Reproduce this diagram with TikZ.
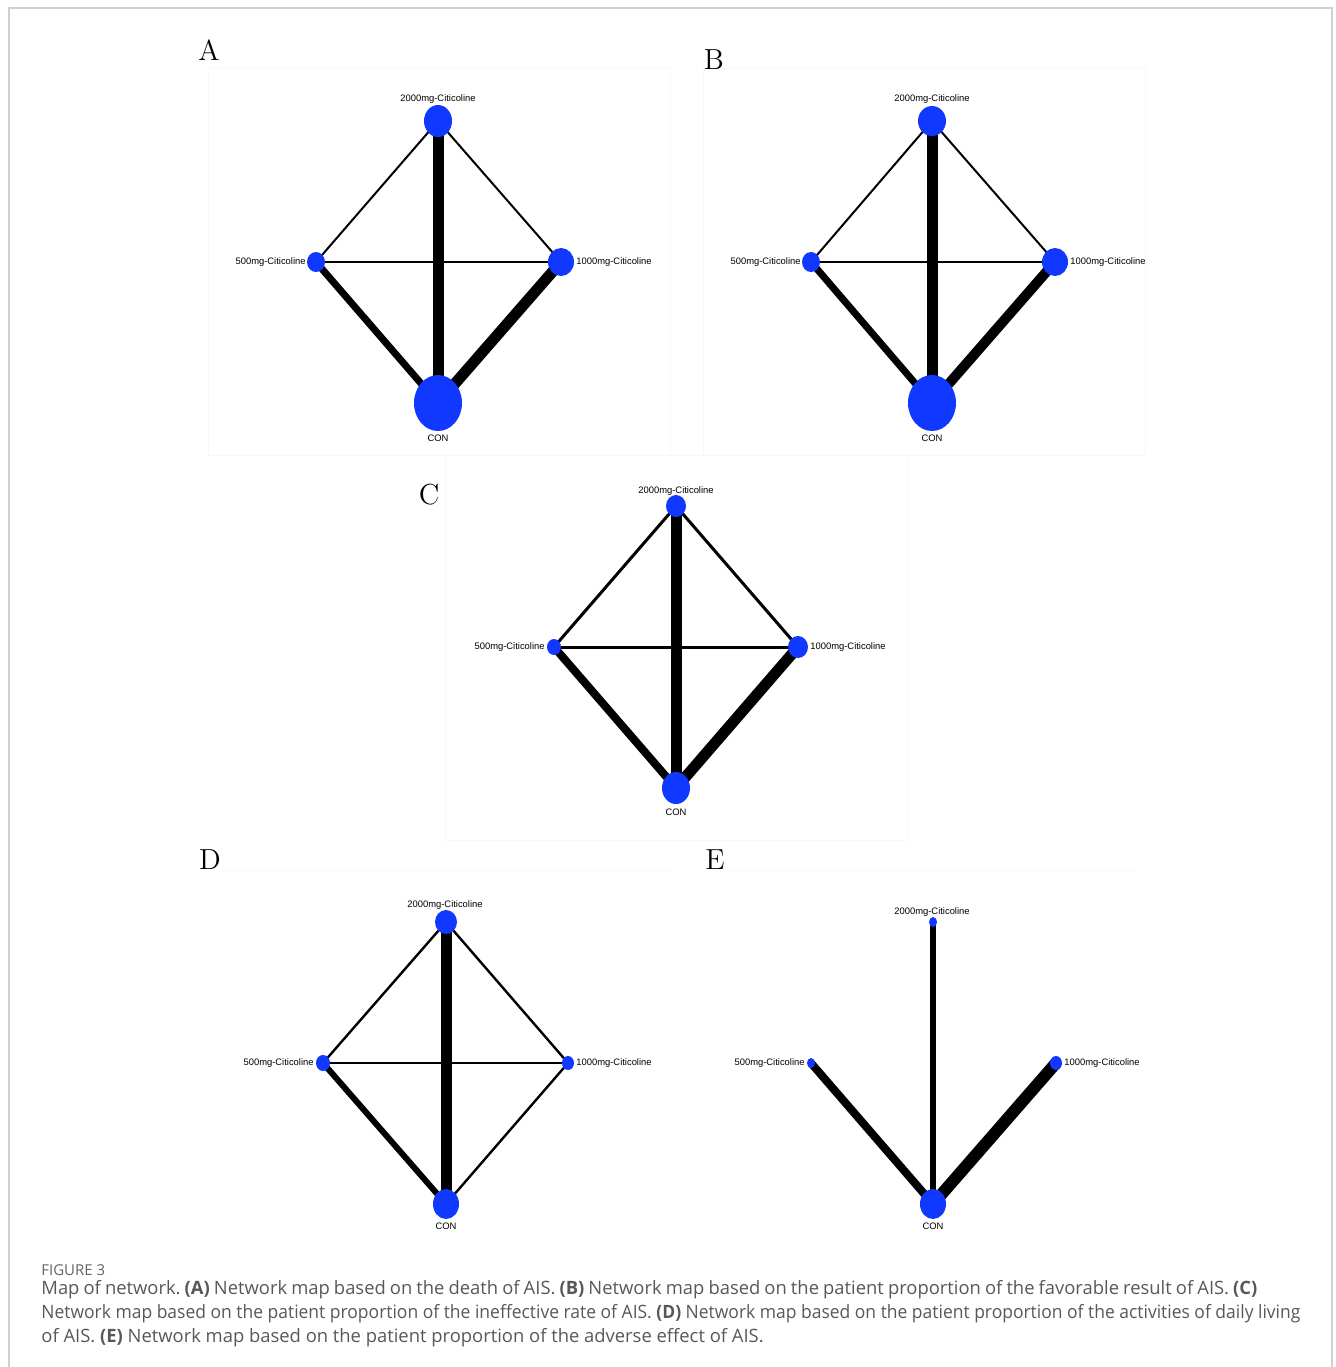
\documentclass[tikz,border=0pt]{standalone}
\usepackage{fontspec}
\usepackage{graphicx}
\usetikzlibrary{shapes.geometric,backgrounds}
\newfontfamily\labfont{Liberation Sans}
\newfontfamily\captfont{Open Sans}
\definecolor{nodeblue}{RGB}{16,56,255}
\definecolor{framegray}{RGB}{208,208,208}
\definecolor{faint}{RGB}{244,249,249}
\definecolor{captgray}{RGB}{88,88,88}
\definecolor{figgray}{RGB}{100,100,100}
\tikzset{
  nd/.style={ellipse, fill=nodeblue, draw=none, inner sep=0pt},
  lbl/.style={font=\labfont\fontsize{4.7}{5}\selectfont, inner sep=0pt, text=black},
  panel/.style={font=\fontsize{14.5}{15}\selectfont, inner sep=0pt},
  faintline/.style={draw=faint, line width=0.5pt},
  capline/.style={font=\captfont\fontsize{9.2}{11}\selectfont\frenchspacing, text=captgray, inner sep=0pt, anchor=base west}
}
\begin{document}
\begin{tikzpicture}[x=0.5pt, y=-0.5pt]
\useasboundingbox (0,0) rectangle (1336,1367);
% outer frame
\draw[framegray, line width=1pt] (9,1380) -- (9,8) -- (1332,8) -- (1332,1380);
% faint panel frames
\draw[faintline] (208,68) rectangle (670,455);
\draw[faintline] (703,68) rectangle (1145,455);
\draw[faintline] (445,455) rectangle (907,840);
\draw[faintline] (222,870) -- (670,870);
\draw[faintline] (727,870) -- (1138,870);

% panel letters
\node[panel] (pA) at (209,50) {A};
\node[panel] (pB) at (714,60) {B};
\node[panel] (pC) at (429,495) {C};
\node[panel] (pD) at (210,860) {D};
\node[panel] (pE) at (715,860) {E};

% ---------- Panel A ----------
\node[nd, minimum width=14pt, minimum height=16pt] (a2) at (438,121) {};
\node[nd, minimum width=9pt, minimum height=10pt] (a5) at (316,262) {};
\node[nd, minimum width=13pt, minimum height=14pt] (a1) at (561,262) {};
\node[nd, minimum width=24pt, minimum height=28pt] (aC) at (438,403) {};
\node[lbl] (la2) at (438,99) {2000mg-Citicoline};
\node[lbl, anchor=east] (la5) at (306,262) {500mg-Citicoline};
\node[lbl, anchor=west] (la1) at (576,262) {1000mg-Citicoline};
\node[lbl] (laC) at (438,438) {CON};
\begin{pgfonlayer}{background}
\draw[line width=1pt] (a2.center) -- (a5.center);
\draw[line width=1pt] (a2.center) -- (a1.center);
\draw[line width=1pt] (a5.center) -- (a1.center);
\draw[line width=5.5pt] (a2.center) -- (aC.center);
\draw[line width=3.5pt] (a5.center) -- (aC.center);
\draw[line width=5.5pt] (a1.center) -- (aC.center);
\end{pgfonlayer}

% ---------- Panel B ----------
\node[nd, minimum width=14pt, minimum height=15pt] (b2) at (932,121) {};
\node[nd, minimum width=9pt, minimum height=10pt] (b5) at (811,262) {};
\node[nd, minimum width=13pt, minimum height=14pt] (b1) at (1055,262) {};
\node[nd, minimum width=24pt, minimum height=28pt] (bC) at (932,403) {};
\node[lbl] (lb2) at (932,99) {2000mg-Citicoline};
\node[lbl, anchor=east] (lb5) at (801,262) {500mg-Citicoline};
\begin{scope}
\clip (1060,250) rectangle (1144,275);
\node[lbl, anchor=west] (lb1) at (1070,262) {1000mg-Citicoline};
\end{scope}
\node[lbl] (lbC) at (932,438) {CON};
\begin{pgfonlayer}{background}
\draw[line width=1pt] (b2.center) -- (b5.center);
\draw[line width=1pt] (b2.center) -- (b1.center);
\draw[line width=1pt] (b5.center) -- (b1.center);
\draw[line width=5.5pt] (b2.center) -- (bC.center);
\draw[line width=3.5pt] (b5.center) -- (bC.center);
\draw[line width=5pt] (b1.center) -- (bC.center);
\end{pgfonlayer}

% ---------- Panel C ----------
\node[nd, minimum width=10pt, minimum height=11pt] (c2) at (676,506) {};
\node[nd, minimum width=7pt, minimum height=8pt] (c5) at (554,647) {};
\node[nd, minimum width=10pt, minimum height=11pt] (c1) at (798,647) {};
\node[nd, minimum width=14pt, minimum height=16pt] (cC) at (676,788) {};
\node[lbl] (lc2) at (676,491) {2000mg-Citicoline};
\node[lbl, anchor=east] (lc5) at (545,647) {500mg-Citicoline};
\node[lbl, anchor=west] (lc1) at (810,647) {1000mg-Citicoline};
\node[lbl] (lcC) at (676,812) {CON};
\begin{pgfonlayer}{background}
\draw[line width=1.5pt] (c2.center) -- (c5.center);
\draw[line width=1.5pt] (c2.center) -- (c1.center);
\draw[line width=1.5pt] (c5.center) -- (c1.center);
\draw[line width=5.5pt] (c2.center) -- (cC.center);
\draw[line width=4pt] (c5.center) -- (cC.center);
\draw[line width=5.5pt] (c1.center) -- (cC.center);
\end{pgfonlayer}

% ---------- Panel D ----------
\node[nd, minimum width=11pt, minimum height=12pt] (d2) at (446,922) {};
\node[nd, minimum width=7pt, minimum height=8pt] (d5) at (323,1063) {};
\node[nd, minimum width=6pt, minimum height=7pt] (d1) at (568,1063) {};
\node[nd, minimum width=13pt, minimum height=15pt] (dC) at (446,1204) {};
\node[lbl] (ld2) at (445,905) {2000mg-Citicoline};
\node[lbl, anchor=east] (ld5) at (314,1063) {500mg-Citicoline};
\node[lbl, anchor=west] (ld1) at (576,1063) {1000mg-Citicoline};
\node[lbl] (ldC) at (446,1226) {CON};
\begin{pgfonlayer}{background}
\draw[line width=1.2pt] (d2.center) -- (d5.center);
\draw[line width=1.2pt] (d2.center) -- (d1.center);
\draw[line width=1.2pt] (d5.center) -- (d1.center);
\draw[line width=5.5pt] (d2.center) -- (dC.center);
\draw[line width=3pt] (d5.center) -- (dC.center);
\draw[line width=1.2pt] (d1.center) -- (dC.center);
\end{pgfonlayer}

% ---------- Panel E ----------
\node[nd, minimum width=4pt, minimum height=5pt] (e2) at (933,922) {};
\node[nd, minimum width=4pt, minimum height=5pt] (e5) at (811,1063) {};
\node[nd, minimum width=6pt, minimum height=7pt] (e1) at (1056,1063) {};
\node[nd, minimum width=13pt, minimum height=15pt] (eC) at (933,1204) {};
\node[lbl] (le2) at (932,912) {2000mg-Citicoline};
\node[lbl, anchor=east] (le5) at (805,1063) {500mg-Citicoline};
\node[lbl, anchor=west] (le1) at (1064,1063) {1000mg-Citicoline};
\node[lbl] (leC) at (933,1226) {CON};
\begin{pgfonlayer}{background}
\draw[line width=3pt] (e2.center) -- (eC.center);
\draw[line width=4pt] (e5.center) -- (eC.center);
\draw[line width=6pt] (e1.center) -- (eC.center);
\end{pgfonlayer}

% ---------- Caption ----------
\node[anchor=base west, inner sep=0pt, text=figgray, font=\captfont\fontsize{7.5}{9}\selectfont] (fig) at (41,1275) {FIGURE 3};
\node[capline] (cap1) at (41,1294) {\makebox[608pt][s]{Map of network. \textbf{(A)} Network map based on the death of AIS. \textbf{(B)} Network map based on the patient proportion of the favorable result of AIS. \textbf{(C)}}};
\node[capline] (cap2) at (41,1318) {\resizebox{629.5pt}{\height}{Network map based on the patient proportion of the ineffective rate of AIS. \textbf{(D)} Network map based on the patient proportion of the activities of daily living}};
\node[capline] (cap3) at (41,1342) {of AIS. \textbf{(E)} Network map based on the patient proportion of the adverse effect of AIS.};
\end{tikzpicture}
\end{document}
